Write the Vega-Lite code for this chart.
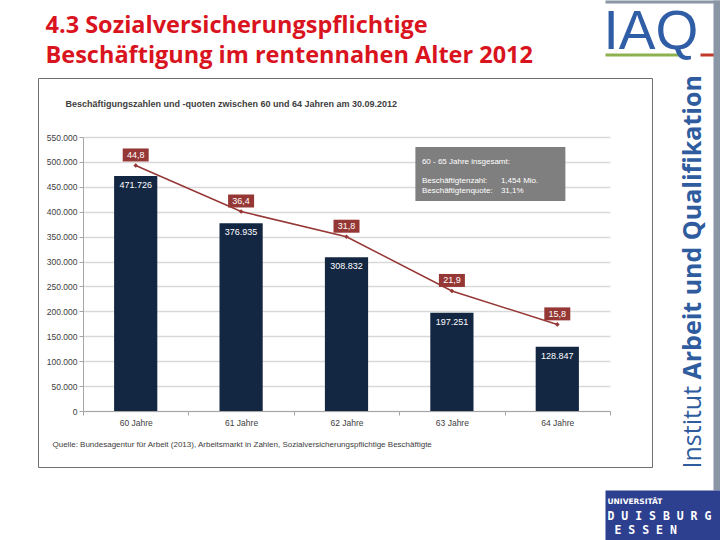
{
  "$schema": "https://vega.github.io/schema/vega-lite/v6.json",
  "autosize": {"type": "none"},
  "padding": {"left": 38, "top": 78, "right": 68, "bottom": 73},
  "width": 614,
  "height": 389,
  "background": "white",
  "data": {"values": [
    {"age": "60 Jahre", "emp": 471726, "pct": 44.8},
    {"age": "61 Jahre", "emp": 376935, "pct": 36.4},
    {"age": "62 Jahre", "emp": 308832, "pct": 31.8},
    {"age": "63 Jahre", "emp": 197251, "pct": 21.9},
    {"age": "64 Jahre", "emp": 128847, "pct": 15.8}
  ]},
  "layer": [
    {
      "encoding": {
        "x": {"field": "age", "type": "nominal", "sort": null,
          "scale": {"range": [45, 572], "paddingInner": 0, "paddingOuter": 0},
          "axis": {"orient": "bottom", "offset": -56, "labelAngle": 0, "labelPadding": 3, "tickSize": 4, "tickBand": "extent",
            "title": "Quelle: Bundesagentur für Arbeit (2013), Arbeitsmarkt in Zahlen, Sozialversicherungspflichtige Beschäftigte",
            "titleX": 14, "titleY": 33, "titleAlign": "left", "titleBaseline": "middle", "titleAngle": 0,
            "titleFontSize": 8, "titleFontWeight": "normal"}},
        "y": {"field": "emp", "type": "quantitative",
          "scale": {"domain": [0, 550000], "range": [333, 59], "nice": false},
          "axis": {"orient": "left", "offset": -45, "format": ",d", "tickCount": 11, "tickSize": 4, "labelPadding": 2,
            "grid": true, "gridColor": "#d9d9d9", "gridWidth": 1.5,
            "title": "Beschäftigungszahlen und -quoten zwischen 60 und 64 Jahren am 30.09.2012",
            "titleAngle": 0, "titleX": -18, "titleY": 25, "titleAlign": "left", "titleBaseline": "middle",
            "titleFontSize": 9, "titleFontWeight": "bold"}}
      },
      "layer": [
        {"mark": {"type": "bar", "color": "#132642", "width": {"band": 0.41}}},
        {"mark": {"type": "text", "color": "white", "baseline": "top", "dy": 5, "fontSize": 9},
          "encoding": {"text": {"field": "emp", "type": "quantitative", "format": ",d"}}}
      ]
    },
    {
      "layer": [
        {
          "encoding": {
            "x": {"field": "age", "type": "nominal", "sort": null,
              "scale": {"range": [45, 572], "paddingInner": 0, "paddingOuter": 0}, "axis": null},
            "y": {"field": "pct", "type": "quantitative",
              "scale": {"domain": [0, 50], "range": [333, 59], "nice": false},
              "axis": {"orient": "right", "offset": -42, "tickCount": 11, "tickSize": 4, "labelPadding": 3, "grid": false,
                "title": "in % der jeweiligen Bevölkerung", "titleAngle": 270, "titleX": 26, "titleY": 196,
                "titleAlign": "center", "titleBaseline": "middle", "titleFontSize": 7, "titleFontWeight": "normal"}}
          },
          "layer": [
            {"mark": {"type": "line", "color": "#953735", "strokeWidth": 1.5}},
            {"mark": {"type": "point", "shape": "diamond", "size": 22, "filled": true, "opacity": 1, "color": "#953735"}},
            {"mark": {"type": "point", "shape": "M-1,-1.31L1,-1.31L1,-0.31L-1,-0.31Z", "size": 676, "filled": true, "opacity": 1, "color": "#953735", "strokeWidth": 0}},
            {"mark": {"type": "text", "color": "white", "fontSize": 9, "dy": -10.5, "baseline": "middle"},
              "encoding": {"text": {"field": "pct", "type": "quantitative", "format": ".1f"}}}
          ]
        },
        {
          "data": {"values": [{"head": "60 - 65 Jahre insgesamt:", "labels": ["Beschäftigtenzahl:", "Beschäftigtenquote:"], "vals": ["1,454 Mio.", "31,1%"]}]},
          "encoding": {
            "x": {"datum": "63 Jahre", "type": "nominal", "axis": null},
            "y": {"datum": 50, "type": "quantitative", "axis": null}
          },
          "layer": [
            {"mark": {"type": "point", "shape": "M-0.487,0.133L1.513,0.133L1.513,0.853L-0.487,0.853Z", "size": 22500, "filled": true, "opacity": 1, "color": "#7f7f7f", "strokeWidth": 0}},
            {"mark": {"type": "text", "color": "white", "fontSize": 8, "align": "left", "baseline": "alphabetic", "dx": -30, "dy": 27},
              "encoding": {"text": {"field": "head", "type": "nominal"}}},
            {"mark": {"type": "text", "color": "white", "fontSize": 8, "align": "left", "baseline": "alphabetic", "dx": -30, "dy": 46, "lineHeight": 9.5},
              "encoding": {"text": {"field": "labels", "type": "nominal"}}},
            {"mark": {"type": "text", "color": "white", "fontSize": 8, "align": "left", "baseline": "alphabetic", "dx": 49, "dy": 46, "lineHeight": 9.5},
              "encoding": {"text": {"field": "vals", "type": "nominal"}}}
          ]
        }
      ]
    },
    {
      "mark": {"type": "point", "opacity": 0},
      "encoding": {
        "x": {"field": "age", "type": "nominal", "scale": {"range": [567, 642]},
          "axis": {"orient": "top", "offset": 23.5, "domain": true, "domainColor": "#8db14e", "domainWidth": 3, "ticks": false, "labels": false, "grid": false,
            "title": ["4.3 Sozialversicherungspflichtige", "Beschäftigung im rentennahen Alter 2012"],
            "titleX": 7, "titleY": -22, "titleAlign": "left", "titleBaseline": "alphabetic", "titleAngle": 0,
            "titleFont": "Open Sans", "titleFontWeight": "bold", "titleFontSize": 23.5, "titleColor": "#d9141e", "titleLineHeight": 29.5}},
        "y": {"field": "pct", "type": "quantitative",
          "axis": {"orient": "right", "offset": 0, "domain": false, "ticks": false, "labels": false, "grid": false,
            "title": "Institut", "titleAngle": 270, "titleX": 48, "titleY": 390, "titleAlign": "left", "titleBaseline": "alphabetic",
            "titleFont": "Open Sans", "titleFontWeight": "normal", "titleFontSize": 25, "titleColor": "#2e5c9e"}}
      }
    },
    {
      "mark": {"type": "point", "opacity": 0},
      "encoding": {
        "x": {"field": "age", "type": "nominal", "scale": {"range": [662, 676]},
          "axis": {"orient": "top", "offset": 23.5, "domain": true, "domainColor": "#c0392b", "domainWidth": 3, "ticks": false, "labels": false, "grid": false,
            "title": "IAQ", "titleX": 565, "titleY": -6.5, "titleAlign": "left", "titleBaseline": "alphabetic", "titleAngle": 0,
            "titleFont": "Liberation Sans", "titleFontWeight": "normal", "titleFontSize": 55, "titleColor": "#2f5da6"}},
        "y": {"field": "pct", "type": "quantitative",
          "axis": {"orient": "right", "offset": 0, "domain": false, "ticks": false, "labels": false, "grid": false,
            "title": "Arbeit und Qualifikation", "titleAngle": 270, "titleX": 48, "titleY": 301, "titleAlign": "left", "titleBaseline": "alphabetic",
            "titleFont": "Open Sans", "titleFontWeight": "bold", "titleFontSize": 25, "titleColor": "#2e5c9e"}}
      }
    },
    {
      "mark": {"type": "point", "opacity": 0},
      "encoding": {
        "x": {"field": "age", "type": "nominal", "scale": {"range": [567, 682]},
          "axis": {"orient": "top", "offset": 76.5, "domain": true, "domainColor": "#8a95a5", "domainWidth": 3, "ticks": false, "labels": false, "grid": false, "title": null}},
        "y": {"field": "pct", "type": "quantitative", "scale": {"range": [412, -78]},
          "axis": {"orient": "right", "offset": 64.5, "domain": true, "domainColor": "#8a95a5", "domainWidth": 7, "ticks": false, "labels": false, "grid": false, "title": null}}
      }
    },
    {
      "mark": {"type": "point", "opacity": 0},
      "encoding": {
        "x": {"field": "age", "type": "nominal",
          "axis": {"orient": "bottom", "offset": 0, "domain": false, "ticks": false, "labels": false, "grid": false, "zindex": 2,
            "title": "D U I S B U R G", "titleX": 569, "titleY": 52, "titleAlign": "left", "titleBaseline": "alphabetic", "titleAngle": 0,
            "titleFont": "DejaVu Sans Mono", "titleFontWeight": "bold", "titleFontSize": 11.5, "titleColor": "white"}},
        "y": {"field": "pct", "type": "quantitative", "scale": {"range": [462, 412]},
          "axis": {"orient": "right", "offset": 10.5, "domain": true, "domainColor": "#2d3f8f", "domainWidth": 115, "ticks": false, "labels": false, "grid": false, "zindex": 1,
            "title": "UNIVERSITÄT", "titleX": -55.5, "titleY": 425, "titleAlign": "left", "titleBaseline": "alphabetic", "titleAngle": 0,
            "titleFont": "DejaVu Sans", "titleFontWeight": "bold", "titleFontSize": 7.5, "titleColor": "white"}}
      }
    },
    {
      "mark": {"type": "point", "opacity": 0},
      "encoding": {
        "x": {"field": "age", "type": "nominal",
          "axis": {"orient": "bottom", "offset": 0, "domain": false, "ticks": false, "labels": false, "grid": false, "zindex": 2,
            "title": "E S S E N", "titleX": 576, "titleY": 66, "titleAlign": "left", "titleBaseline": "alphabetic", "titleAngle": 0,
            "titleFont": "DejaVu Sans Mono", "titleFontWeight": "bold", "titleFontSize": 11.5, "titleColor": "white"}},
        "y": {"field": "pct", "type": "quantitative", "axis": null}
      }
    }
  ],
  "resolve": {"scale": {"x": "independent", "y": "independent"}},
  "config": {
    "locale": {"number": {"decimal": ",", "thousands": ".", "grouping": [3], "currency": ["", " €"]}},
    "view": {"stroke": "#6f6f6f", "strokeWidth": 1},
    "axis": {"labelFont": "Liberation Sans", "titleFont": "Liberation Sans", "labelColor": "#404040", "titleColor": "#404040",
      "domainColor": "#a6a6a6", "tickColor": "#a6a6a6", "labelFontSize": 8.5},
    "text": {"font": "Liberation Sans"}
  }
}
